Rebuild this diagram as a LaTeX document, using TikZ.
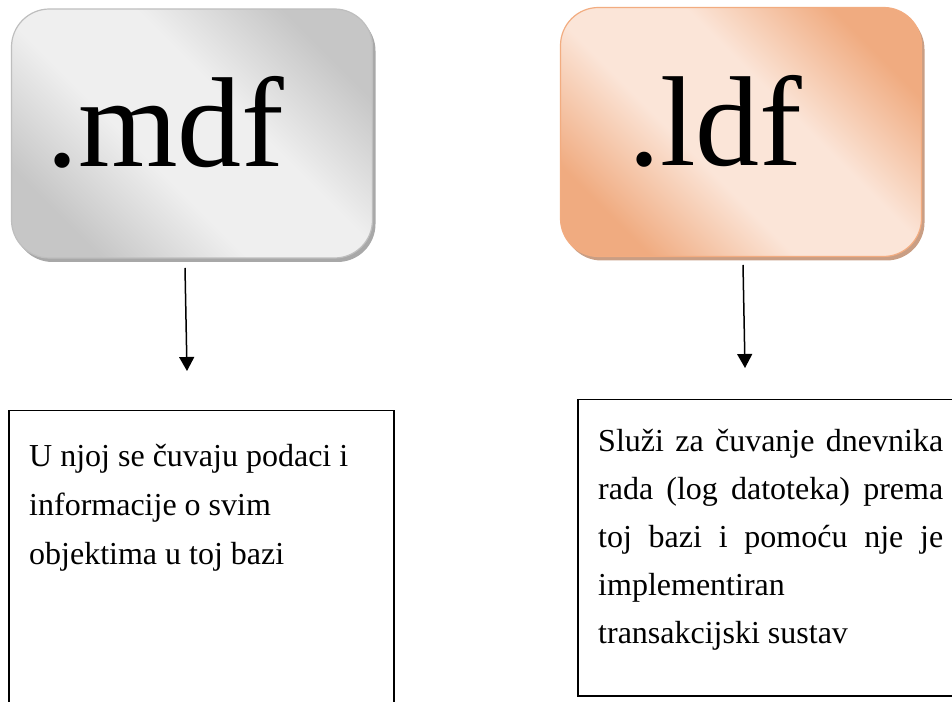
\documentclass[tikz,border=0pt]{standalone}
\usepackage{fontspec}
\setmainfont{Liberation Serif}
\usetikzlibrary{arrows.meta,shadows,positioning}
\definecolor{mdflight}{HTML}{EFEFEF}
\definecolor{mdfdark}{HTML}{C6C6C6}
\definecolor{mdfline}{HTML}{BEBEBE}
\definecolor{mdfshadow}{HTML}{A8A8A8}
\definecolor{ldflight}{HTML}{FBE5D8}
\definecolor{ldfdark}{HTML}{F0AB80}
\definecolor{ldfline}{HTML}{F2AC80}
\definecolor{ldfshadow}{HTML}{C99E84}
\pgfdeclareverticalshading{mdffade}{100bp}{color(0bp)=(mdfdark); color(25bp)=(mdfdark); color(42bp)=(mdflight);
	color(58bp)=(mdflight); color(75bp)=(mdfdark); color(100bp)=(mdfdark)}
\pgfdeclareverticalshading{ldffade}{100bp}{color(0bp)=(ldfdark); color(25bp)=(ldfdark); color(42bp)=(ldflight);
	color(58bp)=(ldflight); color(75bp)=(ldfdark); color(100bp)=(ldfdark)}
\tikzset{
	filebox/.style={rounded corners=38pt,minimum width=361pt,minimum height=249pt,inner sep=0pt,line width=1.2pt},
	mdfshade/.style={draw=mdfline,shading=mdffade,shading angle=135,
		drop shadow={shadow xshift=3pt,shadow yshift=-4pt,fill=mdfshadow,opacity=1}},
	ldfshade/.style={draw=ldfline,shading=ldffade,shading angle=135,
		drop shadow={shadow xshift=3pt,shadow yshift=-4pt,fill=ldfshadow,opacity=1}},
	ext/.style={font=\fontsize{128}{128}\selectfont,inner sep=0pt,anchor=base west},
	descbox/.style={draw,line width=1.5pt,anchor=north west,inner sep=0pt},
	desc/.style={font=\fontsize{32}{48}\selectfont,inner sep=0pt,anchor=base west},
	link/.style={-{Triangle[width=15pt,length=14pt]},line width=1.5pt}
}
\begin{document}
\begin{tikzpicture}[x=1pt,y=1pt]
	\useasboundingbox (0,0) rectangle (952,701);
	\clip (0,0) rectangle (952,701);
	% file boxes
	\node[filebox,mdfshade] (mdf) at (192,567.5) {};
	\node[filebox,ldfshade] (ldf) at (741,569) {};
	\node[ext] (mdflabel) at ([xshift=35pt,yshift=-33.5pt]mdf.west) {.mdf};
	\node[ext] (ldflabel) at ([xshift=68pt,yshift=-34pt]ldf.west) {.ldf};
	% arrows
	\coordinate (mdfout) at (185,433);
	\coordinate (mdfin) at (187,330);
	\coordinate (ldfout) at (743,436);
	\coordinate (ldfin) at (745,333);
	\draw[link] (mdfout) -- (mdfin);
	\draw[link] (ldfout) -- (ldfin);
	% descriptions
	\node[descbox,minimum width=385pt,minimum height=320pt] (mdfbox) at (8,291) {};
	\node[desc,font=\fontsize{32}{49}\selectfont,text width=340pt,align=flush left] (mdftext) at ([xshift=21pt,yshift=-57pt]mdfbox.north west)
		{U njoj se čuvaju podaci i\\informacije o svim\\objektima u toj bazi};
	\node[descbox,minimum width=400pt,minimum height=296pt] (ldfbox) at (577,302) {};
	\node[desc,text width=345pt,align=justify] (ldftext) at ([xshift=21pt,yshift=-53pt]ldfbox.north west)
		{Služi za čuvanje dnevnika\linebreak rada (log datoteka) prema\linebreak toj bazi i pomoću nje je\linebreak implementiran\newline transakcijski sustav};
	%\draw (mdf.south) -- (mdfbox.north);
\end{tikzpicture}
\end{document}
